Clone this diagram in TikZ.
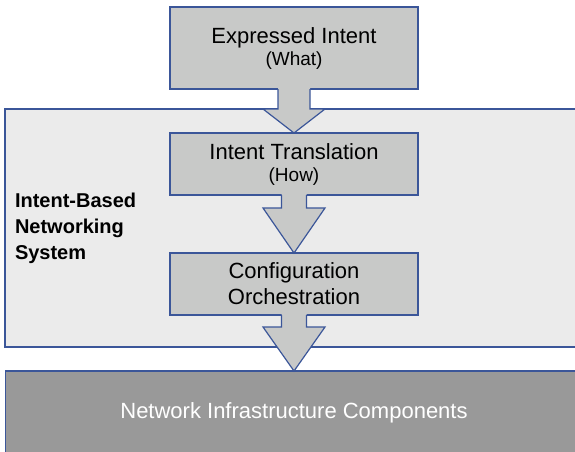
\documentclass[tikz,border=0pt]{standalone}
\usepackage{fontspec}
\setmainfont{Liberation Sans}
\usetikzlibrary{positioning, calc}

\definecolor{edgeblue}{RGB}{59,86,153}
\definecolor{boxgray}{RGB}{200,201,200}
\definecolor{sysgray}{RGB}{235,235,235}
\definecolor{infragray}{RGB}{153,153,153}

% block arrow: from, to, shaft half width, head length
\newcommand{\fatarrow}[4]{%
  \fill[boxgray] ($(#1.south)+(-#3,1)$) -- ($(#2.north)+(-#3,#4)$) -- ($(#2.north)+(-31,#4)$)
    -- (#2.north) -- ($(#2.north)+(31,#4)$) -- ($(#2.north)+(#3,#4)$) -- ($(#1.south)+(#3,1)$) -- cycle;
  \draw[edgeblue, line width=1.2pt] ($(#1.south)+(-#3,0)$) -- ($(#2.north)+(-#3,#4)$) -- ($(#2.north)+(-31,#4)$)
    -- (#2.north) -- ($(#2.north)+(31,#4)$) -- ($(#2.north)+(#3,#4)$) -- ($(#1.south)+(#3,0)$);
}

\begin{document}
\begin{tikzpicture}[x=1pt, y=1pt, node distance=44pt,
    every node/.style={outer sep=0pt},
    stage/.style={draw=edgeblue, line width=1.2pt, fill=boxgray, minimum width=248pt,
      align=center, inner sep=0pt, font=\fontsize{22}{22}\selectfont},
    sysbox/.style={draw=edgeblue, line width=1.2pt, fill=sysgray, minimum width=577pt, minimum height=238pt},
    infra/.style={draw=edgeblue, line width=1.2pt, fill=infragray, text=white, minimum width=577pt,
      minimum height=84pt, font=\fontsize{22}{26}\selectfont}]
    \useasboundingbox (0,0) rectangle (575,451);
    \clip (0,0) rectangle (575,451);

    \node[sysbox, anchor=north west]                     (system)      at (5,342) {};
    \node[right=10pt of system.west, align=left, inner sep=0pt,
          font=\bfseries\fontsize{20}{26}\selectfont]    (syslabel)    {Intent-Based\\Networking\\System};
    \node[stage, minimum height=82pt]                    (expressed)   at (294,403)
        {Expressed Intent\\\fontsize{19}{22}\selectfont (What)};
    \node[stage, minimum height=62pt, below=of expressed]          (translation)
        {Intent Translation\\\fontsize{19}{21}\selectfont (How)};
    \node[stage, minimum height=62pt, below=58pt of translation,
          font=\fontsize{22}{26}\selectfont]             (config)      {Configuration\\Orchestration};
    \node[infra, below=56pt of config]                   (components)  {Network Infrastructure Components};

    \fatarrow{expressed}{translation}{16}{24}
    \fatarrow{translation}{config}{12.5}{45}
    \fatarrow{config}{components}{12.5}{44}
\end{tikzpicture}
\end{document}
